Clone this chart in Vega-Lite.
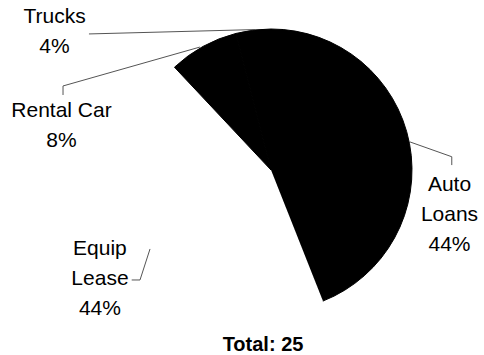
{
  "$schema": "https://vega.github.io/schema/vega-lite/v6.json",
  "width": 426,
  "height": 340,
  "autosize": "none",
  "padding": {"left": 58, "top": 0, "right": 0, "bottom": 15},
  "background": "white",
  "config": {"view": {"stroke": null}, "font": "Liberation Sans"},
  "title": {
    "text": "Total: 25",
    "orient": "bottom",
    "anchor": "middle",
    "baseline": "alphabetic",
    "offset": 11,
    "dx": -8,
    "font": "Liberation Sans",
    "fontSize": 20,
    "fontWeight": "bold",
    "color": "black"
  },
  "datasets": {
    "slices": [
      {"category": "Auto Loans", "value": 11, "order": 1, "label": "Auto\nLoans\n44%"},
      {"category": "Equip Lease", "value": 11, "order": 2, "label": "Equip\nLease\n44%"},
      {"category": "Rental Car", "value": 2, "order": 3, "label": "Rental Car\n8%"},
      {"category": "Trucks", "value": 1, "order": 4, "label": "Trucks\n4%"}
    ],
    "leaders": [
      {"category": "Trucks", "pt": 1, "u": -1.291, "v": 0.965},
      {"category": "Trucks", "pt": 2, "u": -0.113, "v": 0.996},
      {"category": "Rental Car", "pt": 1, "u": -1.475, "v": 0.532},
      {"category": "Rental Car", "pt": 2, "u": -1.475, "v": 0.596},
      {"category": "Rental Car", "pt": 3, "u": -0.504, "v": 0.872},
      {"category": "Auto Loans", "pt": 1, "u": 0.986, "v": 0.199},
      {"category": "Auto Loans", "pt": 2, "u": 1.282, "v": 0.094},
      {"category": "Auto Loans", "pt": 3, "u": 1.282, "v": 0.035},
      {"category": "Equip Lease", "pt": 1, "u": -0.858, "v": -0.56},
      {"category": "Equip Lease", "pt": 2, "u": -0.929, "v": -0.78},
      {"category": "Equip Lease", "pt": 3, "u": -0.988, "v": -0.78}
    ]
  },
  "layer": [
    {
      "data": {"name": "slices"},
      "mark": {"type": "arc", "outerRadius": 141, "strokeWidth": 1},
      "encoding": {
        "theta": {"field": "value", "type": "quantitative", "stack": true, "scale": {"zero": true, "nice": false}},
        "order": {"field": "order", "type": "quantitative"},
        "color": {
          "field": "category",
          "type": "nominal",
          "scale": {"domain": ["Auto Loans", "Equip Lease", "Rental Car", "Trucks"], "range": ["#000000", "#ffffff", "#000000", "#000000"]},
          "legend": null
        },
        "stroke": {
          "field": "category",
          "type": "nominal",
          "scale": {"domain": ["Auto Loans", "Equip Lease", "Rental Car", "Trucks"], "range": ["#000000", "transparent", "#000000", "#000000"]},
          "legend": null
        }
      }
    },
    {
      "data": {"name": "leaders"},
      "mark": {"type": "line", "color": "#555555", "strokeWidth": 1},
      "encoding": {
        "x": {"field": "u", "type": "quantitative", "scale": {"domain": [-1.5106, 1.5106], "nice": false, "zero": false}, "axis": null},
        "y": {"field": "v", "type": "quantitative", "scale": {"domain": [-1.2057, 1.2057], "nice": false, "zero": false}, "axis": null},
        "detail": {"field": "category"},
        "order": {"field": "pt"}
      }
    },
    {
      "data": {"name": "slices"},
      "transform": [
        {"stack": "value", "groupby": [], "sort": [{"field": "order", "order": "ascending"}], "as": ["start", "end"]},
        {"calculate": "(datum.start + datum.end) / 2", "as": "mid"},
        {"filter": "datum.category == 'Auto Loans'"}
      ],
      "mark": {"type": "text", "radius": 141, "dx": 40, "dy": 41, "align": "center", "baseline": "middle", "lineBreak": "\n", "lineHeight": 30, "fontSize": 21, "font": "Liberation Sans", "color": "black"},
      "encoding": {"theta": {"field": "mid", "type": "quantitative"}, "text": {"field": "label"}}
    },
    {
      "data": {"name": "slices"},
      "transform": [
        {"stack": "value", "groupby": [], "sort": [{"field": "order", "order": "ascending"}], "as": ["start", "end"]},
        {"calculate": "(datum.start + datum.end) / 2", "as": "mid"},
        {"filter": "datum.category == 'Equip Lease'"}
      ],
      "mark": {"type": "text", "radius": 141, "dx": -52, "dy": 3, "align": "center", "baseline": "middle", "lineBreak": "\n", "lineHeight": 30, "fontSize": 21, "font": "Liberation Sans", "color": "black"},
      "encoding": {"theta": {"field": "mid", "type": "quantitative"}, "text": {"field": "label"}}
    },
    {
      "data": {"name": "slices"},
      "transform": [
        {"stack": "value", "groupby": [], "sort": [{"field": "order", "order": "ascending"}], "as": ["start", "end"]},
        {"calculate": "(datum.start + datum.end) / 2", "as": "mid"},
        {"filter": "datum.category == 'Rental Car'"}
      ],
      "mark": {"type": "text", "radius": 141, "dx": -141.6, "dy": 65, "align": "center", "baseline": "middle", "lineBreak": "\n", "lineHeight": 30, "fontSize": 21, "font": "Liberation Sans", "color": "black"},
      "encoding": {"theta": {"field": "mid", "type": "quantitative"}, "text": {"field": "label"}}
    },
    {
      "data": {"name": "slices"},
      "transform": [
        {"stack": "value", "groupby": [], "sort": [{"field": "order", "order": "ascending"}], "as": ["start", "end"]},
        {"calculate": "(datum.start + datum.end) / 2", "as": "mid"},
        {"filter": "datum.category == 'Trucks'"}
      ],
      "mark": {"type": "text", "radius": 141, "dx": -198.8, "dy": -13, "align": "center", "baseline": "middle", "lineBreak": "\n", "lineHeight": 30, "fontSize": 21, "font": "Liberation Sans", "color": "black"},
      "encoding": {"theta": {"field": "mid", "type": "quantitative"}, "text": {"field": "label"}}
    }
  ]
}
